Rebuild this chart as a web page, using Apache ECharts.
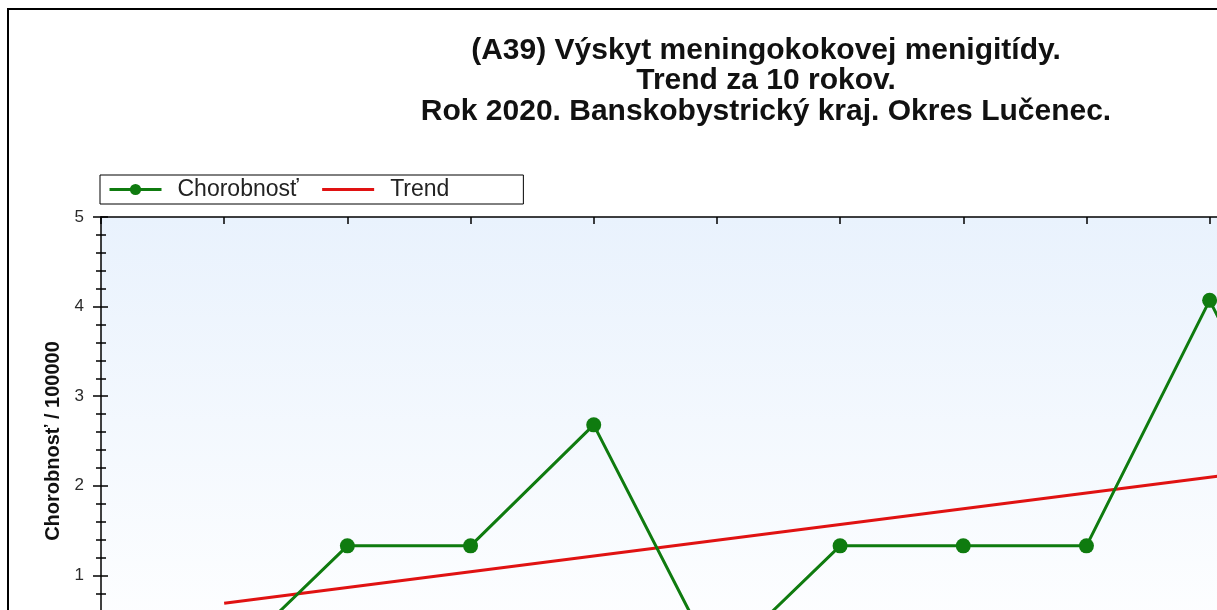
<!DOCTYPE html>
<html>
<head>
<meta charset="utf-8">
<script src="https://cdn.jsdelivr.net/npm/echarts@6/dist/echarts.min.js"></script>
<style>
html, body { margin: 0; padding: 0; overflow: hidden; background: #fff; width: 1217px; height: 610px; }
#chart { position: absolute; left: 0; top: 0; width: 1524px; height: 740px; }
</style>
</head>
<body>
<div id="chart"></div>
<script>
// Data
const years = [2011, 2012, 2013, 2014, 2015, 2016, 2017, 2018, 2019, 2020];
const incidence = [0, 1.33, 1.33, 2.68, 0, 1.33, 1.33, 1.33, 4.07, 1.33];
const trendYears = [2011, 2020];
const trendValues = [0.69, 2.27];
const yTicks = [0, 1, 2, 3, 4, 5];
const titleLines = ['(A39) Výskyt meningokokovej menigitídy.', 'Trend za 10 rokov.', 'Rok 2020. Banskobystrický kraj. Okres Lučenec.'];
const seriesNames = ['Chorobnosť', 'Trend'];
const yAxisName = 'Chorobnosť / 100000';

const chart = echarts.init(document.getElementById('chart'), null, { renderer: 'canvas' });
const font = 'Liberation Sans, Arial, sans-serif';
const green = '#0f7b0f';
const red = '#e01212';

const option = {
  animation: false,
  backgroundColor: '#ffffff',
  title: {
    text: titleLines.join('\n'),
    left: 761,
    textAlign: 'center',
    top: 30,
    textStyle: { fontFamily: font, fontSize: 30, fontWeight: 'bold', color: '#111', lineHeight: 30.5 }
  },
  graphic: [{
    type: 'rect',
    shape: { x: 8, y: 9, width: 1508, height: 722 },
    style: { fill: 'none', stroke: '#000', lineWidth: 2 },
    silent: true
  }],
  legend: {
    left: 100, top: 175,
    orient: 'horizontal',
    backgroundColor: '#fff',
    borderColor: '#000', borderWidth: 1,
    padding: [3, 74, 3, 8],
    itemWidth: 52, itemHeight: 14, itemGap: 22,
    textStyle: { fontFamily: font, fontSize: 23, color: '#222', padding: [0, 0, 0, 11] },
    data: [
      { name: seriesNames[0], lineStyle: { width: 3 } },
      { name: seriesNames[1], itemStyle: { opacity: 0 }, lineStyle: { width: 3 } }
    ]
  },
  grid: {
    left: 101, top: 217, width: 1355, height: 448,
    show: true, borderWidth: 0,
    backgroundColor: new echarts.graphic.LinearGradient(0, 0, 0, 1, [
      { offset: 0, color: '#e9f2fd' },
      { offset: 1, color: '#ffffff' }
    ])
  },
  xAxis: [{
    type: 'value', min: 2010, max: 2021, interval: 1, position: 'bottom',
    axisLine: { show: true, onZero: false, lineStyle: { color: '#000', width: 1.5 } },
    axisTick: { show: true, inside: true, length: 7, lineStyle: { color: '#000', width: 1.5 } },
    axisLabel: { fontFamily: font, fontSize: 17, color: '#222', formatter: v => String(v) },
    splitLine: { show: false }
  }, {
    type: 'value', min: 2010, max: 2021, interval: 1, position: 'top',
    axisLine: { show: true, onZero: false, lineStyle: { color: '#000', width: 1.5 } },
    axisTick: { show: true, inside: true, length: 7, lineStyle: { color: '#000', width: 1.5 } },
    axisLabel: { show: false },
    splitLine: { show: false }
  }],
  yAxis: [{
    type: 'value', min: yTicks[0], max: yTicks[yTicks.length - 1], interval: 1, position: 'left',
    name: yAxisName, nameLocation: 'middle', nameGap: 37, nameRotate: 90,
    nameTextStyle: { fontFamily: font, fontSize: 20, fontWeight: 'bold', color: '#111' },
    axisLine: { show: true, onZero: false, lineStyle: { color: '#000', width: 1.5 } },
    axisTick: { show: true, inside: false, length: 8, lineStyle: { color: '#000', width: 1.5 } },
    minorTick: { show: true, splitNumber: 5, length: 5, lineStyle: { color: '#000', width: 1.5 } },
    axisLabel: { fontFamily: font, fontSize: 17, color: '#2a2a2a', margin: 17 },
    splitLine: { show: false }
  }, {
    type: 'value', min: yTicks[0], max: yTicks[yTicks.length - 1], interval: 1, position: 'left', offset: 0,
    axisLine: { show: false, onZero: false },
    axisTick: { show: true, inside: true, length: 7, lineStyle: { color: '#000', width: 1.5 } },
    minorTick: { show: true, splitNumber: 5, length: 5, lineStyle: { color: '#000', width: 1.5 } },
    axisLabel: { show: false },
    splitLine: { show: false }
  }],
  series: [{
    name: seriesNames[0],
    type: 'line',
    data: years.map((y, i) => [y, incidence[i]]),
    symbol: 'circle', symbolSize: 15,
    itemStyle: { color: green },
    lineStyle: { color: green, width: 3 },
    z: 3
  }, {
    name: seriesNames[1],
    type: 'line',
    data: trendYears.map((y, i) => [y, trendValues[i]]),
    symbol: 'none',
    itemStyle: { color: red },
    lineStyle: { color: red, width: 3 },
    z: 2
  }]
};
chart.setOption(option);
</script>
</body>
</html>
